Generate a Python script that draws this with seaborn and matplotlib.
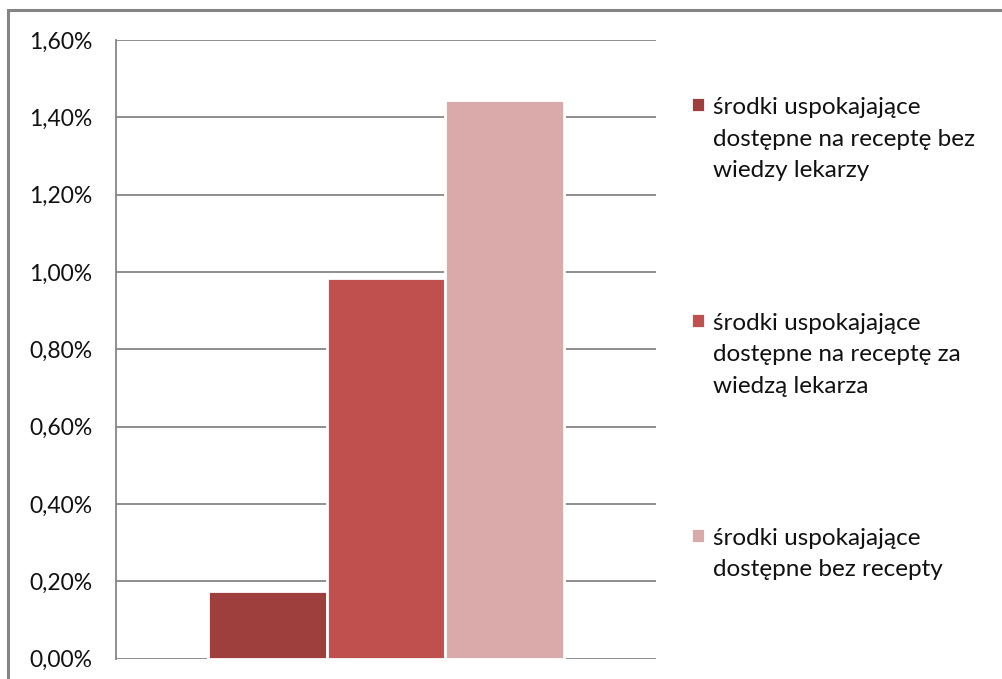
import pandas as pd
import seaborn as sns
import matplotlib.pyplot as plt
from matplotlib.patches import Rectangle
from matplotlib.ticker import FuncFormatter

# ----------------------------- DATI -----------------------------
categorie = ["środki uspokajające\ndostępne na receptę bez\nwiedzy lekarzy",
             "środki uspokajające\ndostępne na receptę za\nwiedzą lekarza",
             "środki uspokajające\ndostępne bez recepty"]
valori = [0.00174, 0.00985, 0.01446]
colori = ["#9E3F3D", "#C0504D", "#DAAAAA"]
yticks = [0.0, 0.002, 0.004, 0.006, 0.008, 0.010, 0.012, 0.014, 0.016]

df = pd.DataFrame({"gruppo": [""] * len(valori), "serie": categorie, "valore": valori})

# ----------------------------- GRAFICO -----------------------------
sns.set_style("white")
plt.rcParams['font.family'] = ['Lato', 'DejaVu Sans']

fig = plt.figure(figsize=(10.02, 6.79), dpi=100)
ax = fig.add_axes([116 / 1002, 1 - 658.5 / 679, 540 / 1002, 618.5 / 679])

sns.barplot(data=df, x="gruppo", y="valore", hue="serie", palette=colori,
            saturation=1, width=0.66, gap=0, edgecolor="white", linewidth=2,
            ax=ax, zorder=3)

ax.set_ylim(0, 0.016)
ax.set_yticks(yticks)
ax.yaxis.set_major_formatter(FuncFormatter(lambda v, p: f"{v * 100:.2f}%".replace(".", ",")))
ax.grid(axis="y", color="#868686", linewidth=1.3, zorder=0)
ax.set_xlabel("")
ax.set_ylabel("")
ax.set_xticks([])
ax.tick_params(axis="y", length=0, pad=17, labelsize=16.5, labelcolor="#111111")

for s in ["top", "right", "bottom"]:
    ax.spines[s].set_visible(False)
ax.spines["left"].set_color("#868686")
ax.spines["left"].set_linewidth(1.3)

# legenda a destra
handles, labels = ax.get_legend_handles_labels()
leg = ax.legend(handles, labels, loc="upper left", bbox_to_anchor=(0.668, 0.889),
                bbox_transform=fig.transFigure, frameon=False, fontsize=17.5,
                handlelength=0.58, handleheight=0.58, handletextpad=0.33,
                labelspacing=5.4, labelcolor="#111111")
for col in leg._legend_handle_box.get_children():
    for row in col.get_children():
        row.align = "top"
for t in leg.get_texts():
    t.set_linespacing(1.62)

# cornice grigia
fig.patches.append(Rectangle((8 / 1002, -0.1), 1.2, 1 - 10 / 679 + 0.1,
                             transform=fig.transFigure, fill=False,
                             edgecolor="#848484", linewidth=2.2))

fig.savefig("out.png", dpi=100)
